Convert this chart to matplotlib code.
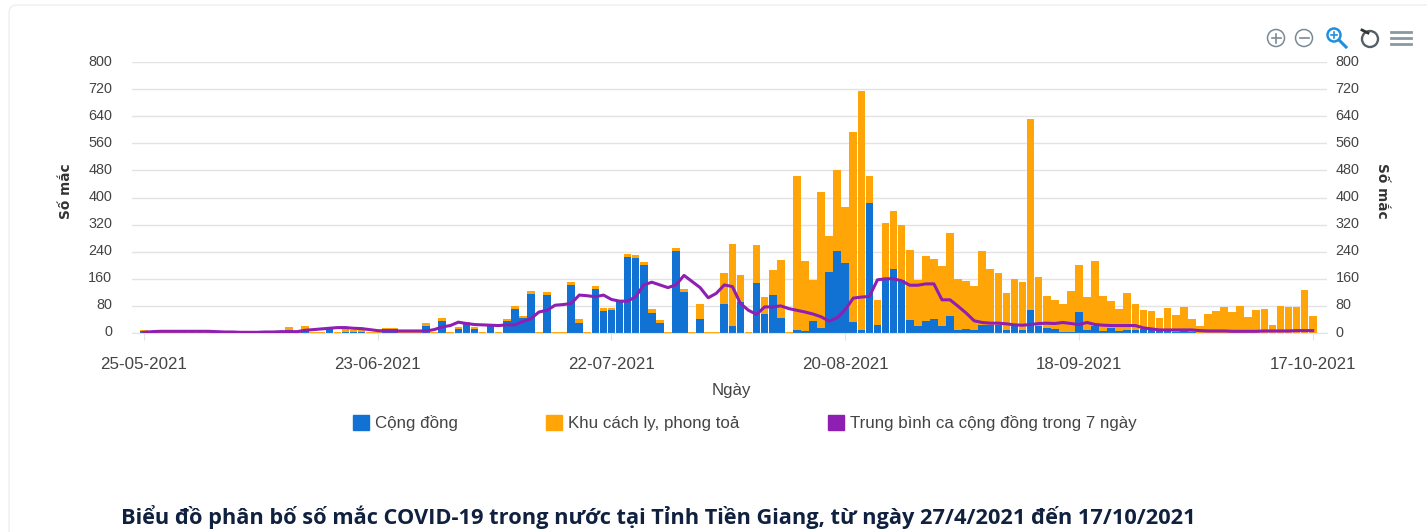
import matplotlib
matplotlib.use("Agg")
import matplotlib.pyplot as plt
from matplotlib.patches import Patch, Circle, FancyBboxPatch
from matplotlib.lines import Line2D
from matplotlib.ticker import FixedLocator
from matplotlib.transforms import Affine2D, ScaledTranslation

tick_idx = [0, 29, 58, 87, 116, 145]
tick_labels = ["25-05-2021", "23-06-2021", "22-07-2021", "20-08-2021", "18-09-2021", "17-10-2021"]
y_ticks = list(range(0, 801, 80))

total = [
    10, 3, 2, 2, 2, 2, 2, 2, 2, 2,
    2, 2, 2, 2, 2, 3, 3, 3, 18, 3,
    20, 3, 4, 18, 4, 14, 10, 10, 4, 3,
    14, 14, 3, 3, 3, 30, 3, 44, 3, 18,
    32, 18, 3, 28, 3, 42, 80, 50, 125, 3,
    122, 3, 3, 152, 40, 3, 140, 75, 75, 95,
    232, 230, 210, 70, 38, 3, 250, 130, 3, 85,
    3, 3, 178, 262, 172, 3, 260, 107, 185, 216,
    3, 464, 213, 157, 415, 285, 482, 372, 592, 713,
    462, 98, 324, 359, 318, 246, 157, 226, 218, 197,
    295, 159, 154, 138, 241, 189, 177, 118, 160, 151,
    631, 165, 108, 98, 86, 123, 201, 106, 214, 110,
    93, 71, 118, 86, 69, 64, 44, 74, 54, 77,
    42, 20, 57, 64, 77, 61, 79, 47, 69, 71,
    25, 79, 77, 77, 126, 51,
]
community = [
    6, 0, 0, 0, 0, 0, 0, 0, 0, 0,
    0, 0, 0, 0, 0, 0, 0, 0, 8, 0,
    10, 0, 0, 14, 0, 3, 2, 2, 0, 0,
    12, 12, 0, 0, 0, 20, 0, 36, 0, 12,
    28, 12, 0, 22, 0, 34, 72, 44, 115, 0,
    112, 0, 0, 143, 30, 0, 130, 65, 68, 92,
    225, 220, 200, 60, 30, 0, 243, 120, 0, 40,
    0, 0, 85, 22, 92, 0, 148, 55, 112, 45,
    0, 10, 5, 35, 15, 179, 241, 207, 32, 8,
    383, 25, 157, 189, 157, 37, 22, 34, 41, 22,
    51, 8, 12, 10, 25, 25, 25, 8, 22, 8,
    69, 22, 15, 12, 3, 3, 62, 10, 20, 5,
    15, 5, 10, 8, 12, 12, 5, 5, 4, 5,
    3, 1, 1, 1, 1, 1, 1, 1, 1, 1,
    1, 1, 1, 1, 1, 1,
]
average = [
    2, 4, 5, 5, 5, 5, 5, 5, 5, 4,
    3, 3, 2, 2, 2, 3, 3, 4, 4, 4,
    8, 10, 12, 14, 16, 16, 14, 13, 10, 7,
    6, 6, 6, 6, 6, 6, 10, 18, 22, 32,
    28, 25, 24, 23, 22, 24, 24, 34, 42, 62,
    67, 82, 84, 87, 112, 110, 107, 112, 99, 94,
    94, 107, 142, 150, 142, 134, 142, 170, 152, 134,
    104, 117, 142, 137, 87, 67, 55, 77, 77, 80,
    72, 67, 62, 56, 48, 35, 45, 69, 103, 106,
    108, 157, 160, 160, 154, 141, 141, 145, 145, 98,
    98, 79, 59, 36, 31, 29, 29, 27, 24, 23,
    25, 28, 29, 28, 31, 28, 25, 31, 25, 23,
    22, 22, 22, 22, 15, 12, 9, 9, 9, 9,
    9, 7, 6, 6, 6, 5, 5, 5, 5, 6,
    6, 6, 6, 7, 7, 7,
]
assert len(total) == len(community) == len(average) == 146

series_names = ["Cộng đồng", "Khu cách ly, phong toả", "Trung bình ca cộng đồng trong 7 ngày"]
title_text = "Biểu đồ phân bố số mắc COVID-19 trong nước tại Tỉnh Tiền Giang, từ ngày 27/4/2021 đến 17/10/2021"

BLUE = "#1272d3"
ORANGE = "#ffa508"
PURPLE = "#8e1fb2"
W, H = 1427, 532
plt.rcParams["font.family"] = ["Liberation Sans", "DejaVu Sans"]

fig = plt.figure(figsize=(W / 100, H / 100), dpi=100, facecolor="white")
px = Affine2D().scale(1, -1).translate(0, H)  # reference pixel coords -> display

# card outline
fig.add_artist(FancyBboxPatch((9, 5), W + 40, 560, boxstyle="round,pad=0,rounding_size=8",
                              transform=px, fc="white", ec="#efefef", lw=1.0, zorder=-5))

ax = fig.add_axes([132 / W, 1 - 333 / H, (1327 - 132) / W, (333 - 62) / H])
ax.patch.set_alpha(0)
days = list(range(len(total)))
other = [t - c for t, c in zip(total, community)]
ax.bar(days, community, width=0.95, color=BLUE, zorder=2)
ax.bar(days, other, bottom=community, width=0.95, color=ORANGE, zorder=2)
ax.plot(days, average, color=PURPLE, lw=2.2, zorder=3, solid_joinstyle="round")

ax.set_xlim((132 - 144) / 8.06, (1327 - 144) / 8.06)
ax.set_ylim(0, 800)
ax.yaxis.set_major_locator(FixedLocator(y_ticks))
ax.set_xticks(tick_idx)
ax.set_xticklabels(tick_labels)
ax.tick_params(axis="x", length=5, width=0.8, color="#e3e3e3", labelsize=12.2, labelcolor="#444444", pad=12)
ax.tick_params(axis="y", length=0, labelsize=10.4, labelcolor="#444444", pad=20)
ax.grid(axis="y", color="#e3e3e3", lw=1.0, zorder=0)
ax.set_axisbelow(True)
for s in ax.spines.values():
    s.set_visible(False)
ax.spines["bottom"].set_visible(True)
ax.spines["bottom"].set_color("#e3e3e3")

axr = ax.twinx()
axr.set_ylim(0, 800)
axr.yaxis.set_major_locator(FixedLocator(y_ticks))
axr.tick_params(axis="y", length=0, labelsize=10.4, labelcolor="#444444", pad=9)
for s in axr.spines.values():
    s.set_visible(False)

# Tick numbers sit slightly above and inward of their gridlines in the reference.
left_off = ScaledTranslation(8 / 100, 2 / 100, fig.dpi_scale_trans)
right_off = ScaledTranslation(-4 / 100, 2 / 100, fig.dpi_scale_trans)
for lab in ax.get_yticklabels():
    lab.set_transform(lab.get_transform() + left_off)
for lab in axr.get_yticklabels():
    lab.set_transform(lab.get_transform() + right_off)

def ptext(x, y, s, **kw):
    fig.text(x / W, 1 - y / H, s, **kw)

ptext(66, 191, "Số mắc", rotation=90, ha="center", va="center", fontsize=9.8, fontweight="bold", color="#333333",
      family=["DejaVu Sans"])
ptext(1382, 191, "Số mắc", rotation=270, ha="center", va="center", fontsize=9.8, fontweight="bold", color="#333333",
      family=["DejaVu Sans"])
ptext(731, 390, "Ngày", ha="center", va="center", fontsize=12.2, color="#444444")

handles = [Patch(color=BLUE), Patch(color=ORANGE), Patch(color=PURPLE)]
fig.legend(handles, series_names, ncols=3, loc="center left", bbox_to_anchor=(353 / W, 1 - 423 / H),
           frameon=False, fontsize=12.2, labelcolor="#444444", handlelength=0.95, handleheight=0.95,
           handletextpad=0.35, columnspacing=5.2, borderpad=0, borderaxespad=0)

ptext(121, 517, title_text, ha="left", va="center", fontsize=15.7, fontweight="bold", color="#10203f",
      family=["Open Sans", "DejaVu Sans"])

# toolbar icons
GREY = "#7a8a94"
def icon_line(xs, ys, color=GREY, lw=1.2):
    fig.add_artist(Line2D(xs, ys, transform=px, color=color, lw=lw))
for cx in (1276, 1304):
    fig.add_artist(Circle((cx, 38), 8.5, transform=px, fc="none", ec=GREY, lw=1.1))
    icon_line([cx - 4.5, cx + 4.5], [38, 38])
icon_line([1276, 1276], [33.5, 42.5])
fig.add_artist(Circle((1334, 35), 6.5, transform=px, fc="none", ec="#1f8fe0", lw=1.8))
icon_line([1339, 1346], [40, 47], color="#1f8fe0", lw=2.2)
icon_line([1331, 1337], [35, 35], color="#1f8fe0", lw=1.2)
icon_line([1334, 1334], [32, 38], color="#1f8fe0", lw=1.2)
fig.add_artist(Circle((1370, 39), 8, transform=px, fc="none", ec="#555f66", lw=1.7))
icon_line([1362, 1368], [30, 33], color="#333333", lw=2.0)
for yy in (32, 38, 44):
    icon_line([1391, 1411], [yy, yy], color="#8a98a0", lw=2.0)

fig.savefig("out.png", dpi=100, facecolor="white")
